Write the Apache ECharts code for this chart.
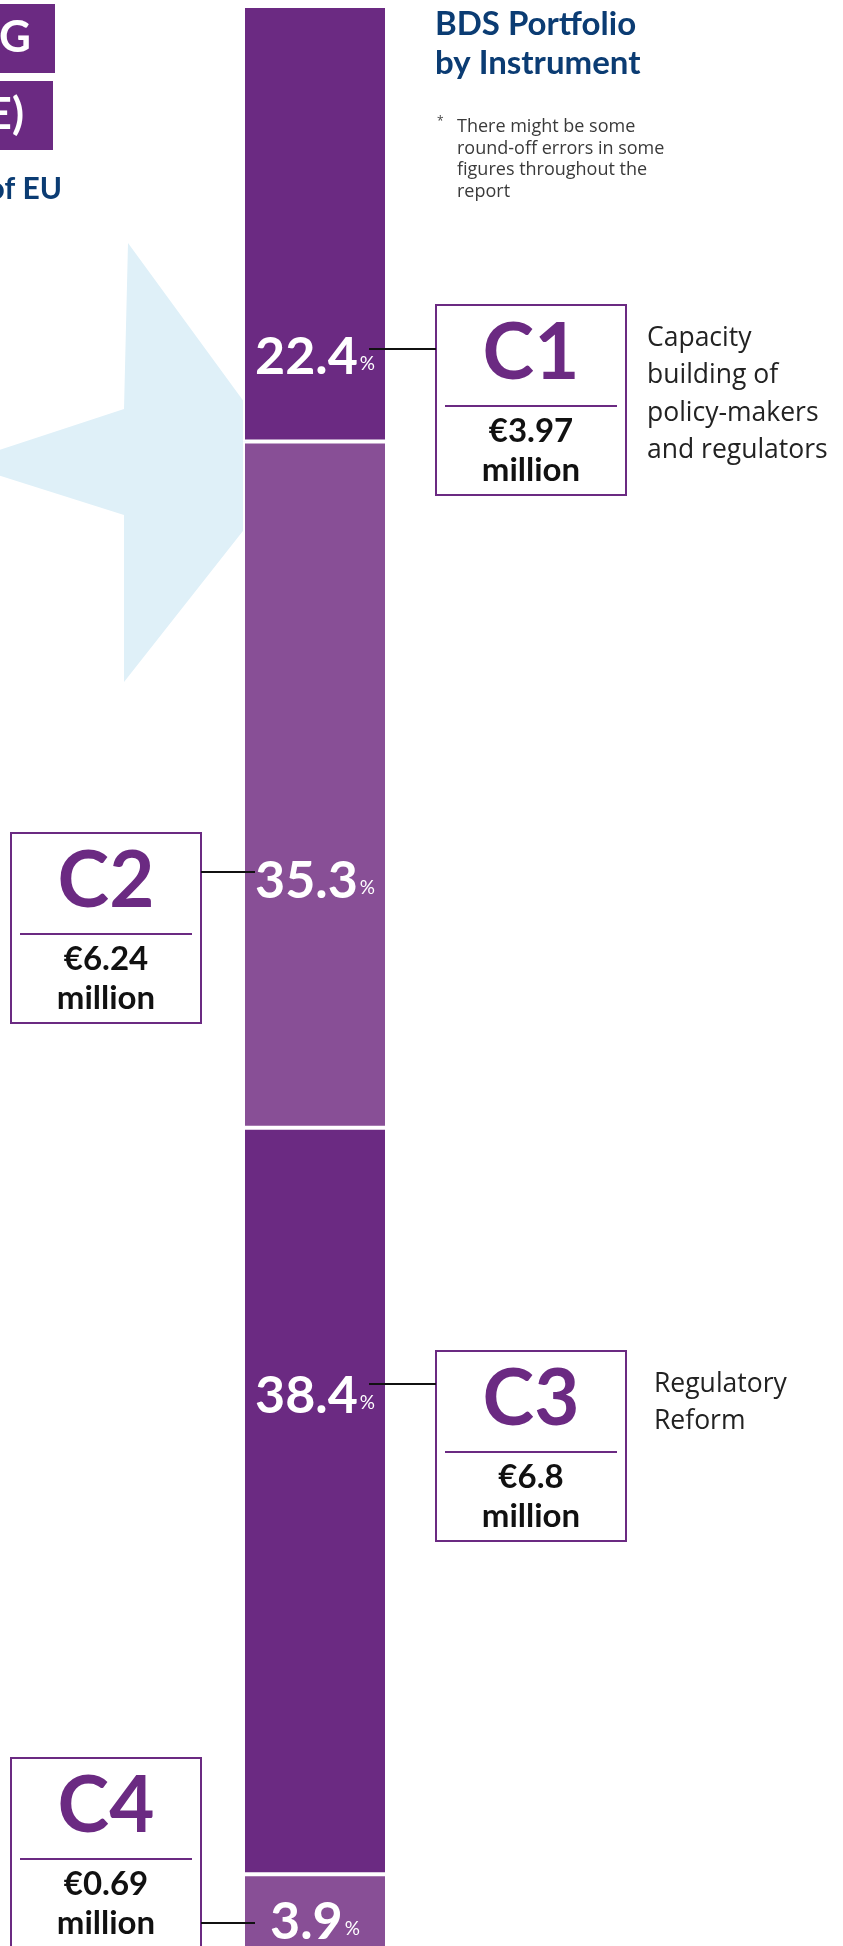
<!DOCTYPE html>
<html>
<head>
<meta charset="utf-8">
<script src="https://cdn.jsdelivr.net/npm/echarts@6/dist/echarts.min.js"></script>
<style>
  html, body { margin: 0; padding: 0; background: #fff; }
  #chart { width: 843px; height: 1946px; }
</style>
</head>
<body>
<div id="chart"></div>
<script>
// BDS portfolio by instrument (share of total budget, %)
const instruments = ['C1', 'C2', 'C3', 'C4']
const shares = [22.4, 35.3, 38.4, 3.9]
const amounts = ['€3.97', '€6.24', '€6.8', '€0.69']
const descriptions = ['Capacity\nbuilding of\npolicy-makers\nand regulators', '', 'Regulatory\nReform', '']

const purple = '#6b2a82'
const lightPurple = '#884f96'
const navy = '#0b3c73'
const segColors = [purple, lightPurple, purple, lightPurple]
const font = 'Lato, "Open Sans", sans-serif'
const bodyFont = '"Open Sans", Lato, sans-serif'

// layout of the call-outs (px)
const labelShift = [134, 97, -105, 10]
const boxPos = [[436, 305], [11, 833], [436, 1351], [11, 1758]]
const linkPos = [[369, 436, 349], [201, 255, 872], [369, 436, 1384], [201, 255, 1923]]
const descPos = [[647, 320], null, [654, 1366], null]

const chart = echarts.init(document.getElementById('chart'))

// amount box : big code, divider, amount
function box(x, y, name, amount) {
  const w = 190, h = 190
  return {
    type: 'group', x: x, y: y, z: 20,
    children: [
      { type: 'rect', shape: { x: 0, y: 0, width: w, height: h }, style: { fill: '#fff', stroke: purple, lineWidth: 2 } },
      { type: 'text', x: w / 2, y: 49, style: { text: name, font: 'bold 78px ' + font, fill: purple, align: 'center', verticalAlign: 'middle' } },
      { type: 'line', shape: { x1: 9, y1: 101, x2: w - 9, y2: 101 }, style: { stroke: purple, lineWidth: 2 } },
      { type: 'text', x: w / 2, y: 146, style: { text: amount + '\nmillion', font: 'bold 33px ' + font, fill: '#111', align: 'center', verticalAlign: 'middle', lineHeight: 39 } }
    ]
  }
}

const graphics = [
  // light blue star behind the bar
  { type: 'polygon', z: 0, shape: { points: [[128, 243], [250, 410], [250, 522], [124, 682], [124, 515], [-40, 463], [124, 409]] }, style: { fill: '#dff0f8' } },
  // cut-off bits of the neighbouring page
  { type: 'rect', z: 5, shape: { x: 0, y: 4, width: 55, height: 69 }, style: { fill: purple } },
  { type: 'text', z: 6, x: 31, y: 38, style: { text: 'G', font: 'bold 44px ' + font, fill: '#fff', align: 'right', verticalAlign: 'middle' } },
  { type: 'rect', z: 5, shape: { x: 0, y: 81, width: 53, height: 69 }, style: { fill: purple } },
  { type: 'text', z: 6, x: 24, y: 115, style: { text: 'E)', font: 'bold 44px ' + font, fill: '#fff', align: 'right', verticalAlign: 'middle' } },
  { type: 'text', z: 6, x: 62, y: 189, style: { text: 'of EU', font: 'bold 30px ' + font, fill: navy, align: 'right', verticalAlign: 'middle' } },
  // title and footnote
  { type: 'text', z: 6, x: 435, y: 5, style: { text: 'BDS Portfolio\nby Instrument', font: 'bold 33px ' + font, fill: navy, lineHeight: 39 } },
  { type: 'text', z: 6, x: 437, y: 116, style: { text: '*', font: '12px ' + bodyFont, fill: '#444' } },
  { type: 'text', z: 6, x: 457, y: 116, style: { text: 'There might be some\nround-off errors in some\nfigures throughout the\nreport', font: '18px ' + bodyFont, fill: '#3a3a3a', lineHeight: 21.7 } }
]

instruments.forEach((name, i) => {
  graphics.push(box(boxPos[i][0], boxPos[i][1], name, amounts[i]))
  const l = linkPos[i]
  graphics.push({ type: 'line', z: 30, shape: { x1: l[0], y1: l[2], x2: l[1], y2: l[2] }, style: { stroke: '#111', lineWidth: 2 } })
  if (descriptions[i]) {
    graphics.push({ type: 'text', z: 6, x: descPos[i][0], y: descPos[i][1], style: { text: descriptions[i], font: '26.5px ' + bodyFont, fill: '#222', lineHeight: 37.3 } })
  }
})

const option = {
  animation: false,
  grid: { left: 243, top: 6, width: 144, height: 1944, outerBoundsMode: 'none', containLabel: false },
  xAxis: { type: 'category', data: ['BDS'], show: false },
  yAxis: { type: 'value', min: 0, max: 100, inverse: true, show: false },
  series: instruments.map((name, i) => ({
    name: name,
    type: 'bar',
    stack: 'total',
    barWidth: '100%',
    z: 2,
    data: [shares[i]],
    itemStyle: { color: segColors[i], borderColor: '#fff', borderWidth: 2 },
    label: {
      show: true,
      position: 'inside',
      offset: [0, labelShift[i]],
      formatter: '{v|{c}}{p|%}',
      rich: {
        v: { fontSize: 52, fontWeight: 'bold', fontFamily: font, color: '#fff', lineHeight: 52 },
        p: { fontSize: 19, fontFamily: font, color: '#fff', verticalAlign: 'bottom', lineHeight: 20, padding: [0, 0, 10, 2] }
      }
    }
  })),
  graphic: { elements: graphics }
}

chart.setOption(option)
</script>
</body>
</html>
